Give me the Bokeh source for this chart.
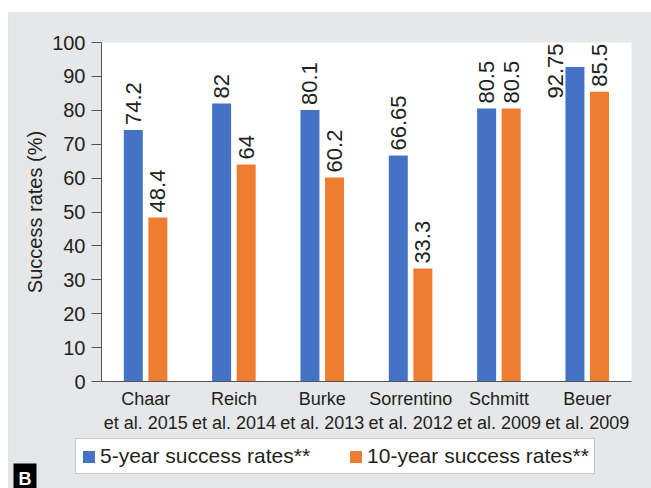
import math
from bokeh.plotting import figure
from bokeh.models import (ColumnDataSource, Range1d, Legend, LegendItem, Label,
                          FixedTicker, BoxAnnotation)
from bokeh.core.properties import value
from bokeh.embed import file_html
from bokeh.resources import INLINE

studies = ["Chaar\net al. 2015", "Reich\net al. 2014", "Burke\net al. 2013",
           "Sorrentino\net al. 2012", "Schmitt\net al. 2009", "Beuer\net al. 2009"]
five_year = [74.2, 82, 80.1, 66.65, 80.5, 92.75]
ten_year = [48.4, 64, 60.2, 33.3, 80.5, 85.5]
five_labels = ["74.2", "82", "80.1", "66.65", "80.5", "92.75"]
ten_labels = ["48.4", "64", "60.2", "33.3", "80.5", "85.5"]
y_ticks = [0, 10, 20, 30, 40, 50, 60, 70, 80, 90, 100]
series_names = ["5-year success rates**", "10-year success rates**"]

BLUE = "#4472c4"
ORANGE = "#ef7d31"
TXT = "#231f20"
GRAY = "#e6e7e9"
AXC = "#555555"
FONT = "Liberation Sans"

# page geometry (pixels)
W, H = 651, 488
PLOT_LEFT_PX = 101      # left edge of the white plot area
PLOT_ZERO_PX = 381      # y pixel of value 0
PX_PER_CAT = 88.33
PX_PER_UNIT = 3.39
Y_MAX = 100

n = len(studies)
centers = [i + 1 for i in range(n)]
pos5 = [c - 0.14 for c in centers]
pos10 = [c + 0.138 for c in centers]

x0 = 0.5 - PLOT_LEFT_PX / PX_PER_CAT
x1 = 0.5 + (W - PLOT_LEFT_PX) / PX_PER_CAT
y0 = -(H - PLOT_ZERO_PX) / PX_PER_UNIT
y1 = PLOT_ZERO_PX / PX_PER_UNIT


def label_layout(vals):
    """Labels sit above their bar; a label that would run past the top of the
    value axis is pinned to the top and moved beside the bar (as in the source)."""
    ys, aligns, xoffs, yoffs = [], [], [], []
    for v in vals:
        if v > 90:
            ys.append(Y_MAX); aligns.append("right"); xoffs.append(-19); yoffs.append(1)
        else:
            ys.append(v); aligns.append("left"); xoffs.append(0); yoffs.append(-5)
    return ys, aligns, xoffs, yoffs


src5 = ColumnDataSource(dict(x=pos5, top=five_year, lbl=five_labels))
src10 = ColumnDataSource(dict(x=pos10, top=ten_year, lbl=ten_labels))
for s, vals in [(src5, five_year), (src10, ten_year)]:
    ly, la, lx, lyo = label_layout(vals)
    s.data.update(ly=ly, la=la, lxo=lx, lyo=lyo)

p = figure(x_range=Range1d(x0, x1), y_range=Range1d(y0, y1),
           width=W, height=H, output_backend="svg", toolbar_location=None,
           min_border=0, min_border_left=0, min_border_right=0,
           min_border_top=0, min_border_bottom=0)
p.title.visible = False
p.background_fill_color = "white"
p.border_fill_color = "white"
p.outline_line_color = None
p.xgrid.visible = False
p.ygrid.visible = False

# grey panel (starts 8px in, 12px down) and white plotting area
gx = 0.5 + (8 - PLOT_LEFT_PX) / PX_PER_CAT
gy = (PLOT_ZERO_PX - 12) / PX_PER_UNIT
p.add_layout(BoxAnnotation(left=gx, top=gy, fill_color=GRAY, fill_alpha=1,
                           line_color="#c4c5c7", line_width=1, level="underlay"))
p.add_layout(BoxAnnotation(left=0.5, right=n + 0.5, bottom=0, top=Y_MAX,
                           fill_color="white", fill_alpha=1, line_color=None,
                           level="underlay"))

r5 = p.vbar(x="x", top="top", width=0.215, source=src5,
            fill_color=BLUE, line_color=None)
r10 = p.vbar(x="x", top="top", width=0.215, source=src10,
             fill_color=ORANGE, line_color=None)

for s in (src5, src10):
    p.text(x="x", y="ly", text="lbl", source=s,
           angle=math.pi / 2, text_align="la", text_baseline="middle",
           x_offset="lxo", y_offset="lyo", text_font=value(FONT),
           text_font_size="22px", text_color=TXT)

ax = p.yaxis[0]
ax.fixed_location = 0.5
ax.ticker = FixedTicker(ticks=y_ticks)
ax.bounds = (0, Y_MAX)
ax.major_tick_out = 10
ax.major_tick_in = 0
ax.minor_tick_line_color = None
ax.axis_line_color = AXC
ax.major_tick_line_color = AXC
ax.major_label_text_font = FONT
ax.major_label_text_font_size = "20px"
ax.major_label_text_color = TXT
ax.major_label_standoff = 6
ax.axis_label = "Success rates (%)"
ax.axis_label_text_font = FONT
ax.axis_label_text_font_size = "20px"
ax.axis_label_text_font_style = "normal"
ax.axis_label_text_color = TXT
ax.axis_label_standoff = 3

xa = p.xaxis[0]
xa.fixed_location = 0
xa.ticker = FixedTicker(ticks=centers)
xa.major_label_overrides = {c: s for c, s in zip(centers, studies)}
xa.bounds = (0.5, n + 0.5)
xa.major_tick_line_color = None
xa.minor_tick_line_color = None
xa.axis_line_color = AXC
xa.major_label_text_font = FONT
xa.major_label_text_font_size = "18px"
xa.major_label_text_color = TXT
xa.major_label_standoff = 1

legend = Legend(items=[LegendItem(label=series_names[0], renderers=[r5]),
                       LegendItem(label=series_names[1], renderers=[r10])],
                orientation="horizontal", location=(75, 14))
legend.label_text_font = FONT
legend.label_text_font_size = "21px"
legend.label_text_color = TXT
legend.glyph_width = 15
legend.glyph_height = 15
legend.label_height = 20
legend.label_standoff = 4
legend.spacing = 38
legend.padding = 5
legend.margin = 0
legend.border_line_color = "#8f8f8f"
legend.background_fill_color = "white"
legend.background_fill_alpha = 1
p.add_layout(legend, "center")

blab = Label(x=13, y=10, x_units="screen", y_units="screen", text="B",
             text_align="left", text_baseline="alphabetic",
             text_color="white", text_font=FONT, text_font_style="bold",
             text_font_size="18px", background_fill_color="black", padding=5)
p.add_layout(blab)

open("out.html", "w").write(file_html(p, INLINE))
